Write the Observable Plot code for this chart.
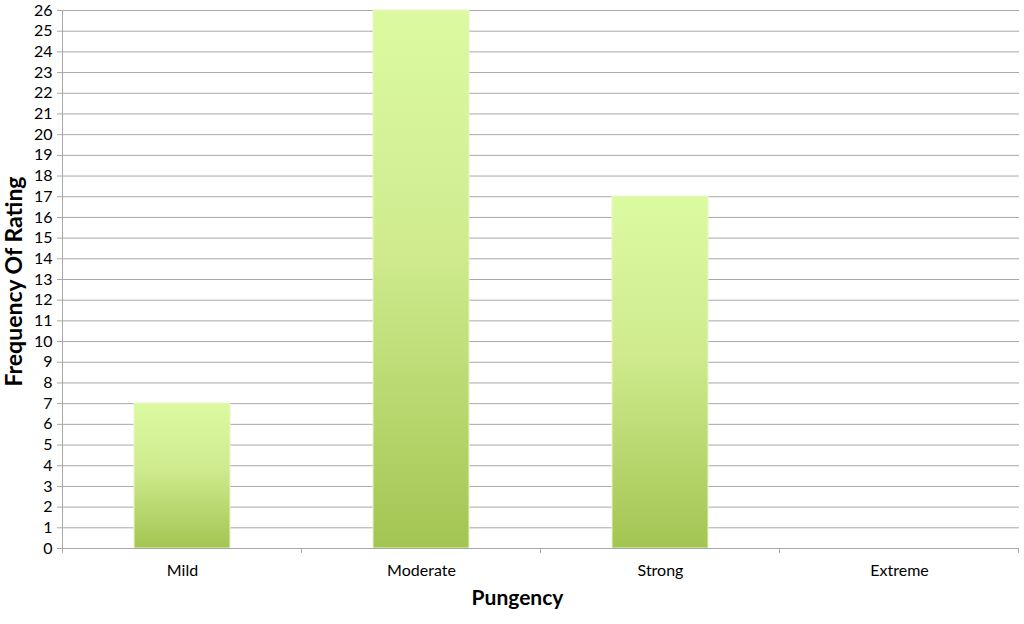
<!DOCTYPE html>
<html>
<head>
<meta charset="utf-8">
<script src="https://cdn.jsdelivr.net/npm/d3@7"></script>
<script src="https://cdn.jsdelivr.net/npm/@observablehq/plot@0.6"></script>
<style>
  html, body { margin: 0; padding: 0; background: #fff; }
  #chart svg { display: block; }
</style>
</head>
<body>
<div id="chart"></div>
<script>
const categories = ["Mild", "Moderate", "Strong", "Extreme"];
const frequencies = [7, 26, 17, 0];
const yTicks = d3.range(0, 27);
const xLabel = "Pungency";
const yLabel = "Frequency Of Rating";

const data = categories.map((c, i) => ({category: c, value: frequencies[i]}));
const font = "Lato, 'Open Sans', sans-serif";
const gridColor = "#a8a8a8";

const chart = Plot.plot({
  width: 1024,
  height: 624,
  marginLeft: 61,
  marginRight: 5,
  marginTop: 10,
  marginBottom: 76,
  style: {fontFamily: font, fontSize: "16px", color: "#000", background: "#fff"},
  x: {domain: categories, paddingInner: 0.6, paddingOuter: 0.3, label: null},
  y: {domain: [0, 26], label: null},
  marks: [
    Plot.ruleY(yTicks.filter(d => d > 0), {stroke: gridColor, strokeWidth: 1}),
    Plot.barY(data, {x: "category", y: "value", fill: "url(#barGrad)", stroke: "#e6f7c4", strokeWidth: 1}),
    Plot.ruleY([0], {stroke: gridColor, strokeWidth: 1}),
    Plot.axisY({ticks: yTicks, tickSize: 4, tickPadding: 5, stroke: gridColor, fontSize: 16, label: null}),
    Plot.axisX({tickSize: 0, tickPadding: 16, fontSize: 16, label: null}),
    Plot.text([xLabel], {frameAnchor: "bottom", dx: -23, dy: 56, fontSize: 21, fontWeight: "bold", text: d => d}),
    Plot.text([yLabel], {frameAnchor: "left", textAnchor: "middle", rotate: -90, dx: -47, dy: 2, fontSize: 23, fontWeight: "bold", text: d => d})
  ]
});

// gradient definition for bars
const svg = d3.select(chart);
const defs = svg.insert("defs", ":first-child");
const grad = defs.append("linearGradient").attr("id", "barGrad")
  .attr("x1", 0).attr("y1", 0).attr("x2", 0).attr("y2", 1);
grad.append("stop").attr("offset", "0%").attr("stop-color", "#dcfaa0");
grad.append("stop").attr("offset", "45%").attr("stop-color", "#cfeb8e");
grad.append("stop").attr("offset", "100%").attr("stop-color", "#a3c552");

// left axis line and band-boundary tick marks derived from scales
const xs = chart.scale("x");
const ys = chart.scale("y");
const step = xs.step;
const x0 = xs.apply(categories[0]) - (step - xs.bandwidth) / 2;
const yBottom = ys.apply(0), yTop = ys.apply(26);
svg.append("line").attr("x1", x0).attr("x2", x0).attr("y1", yTop).attr("y2", yBottom + 5)
  .attr("stroke", gridColor);
const boundaries = d3.range(categories.length + 1).map(i => x0 + i * step);
svg.append("g").selectAll("line").data(boundaries).join("line")
  .attr("x1", d => d).attr("x2", d => d).attr("y1", yBottom).attr("y2", yBottom + 5)
  .attr("stroke", gridColor);

document.getElementById("chart").appendChild(chart);
</script>
</body>
</html>
